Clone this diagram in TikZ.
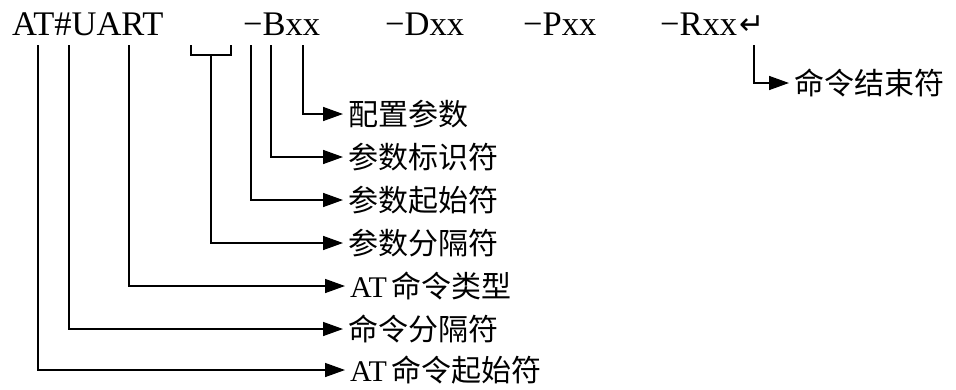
\documentclass[tikz,border=0pt]{standalone}
\usepackage{fontspec}
\setmainfont{Liberation Serif}
\newfontfamily\cjk{Noto Sans CJK SC}
\newfontfamily\symfont{DejaVu Sans}
\usetikzlibrary{arrows.meta}

\begin{document}
\begin{tikzpicture}[x=1pt,y=-1pt]

    \tikzstyle{cmd} = [anchor=base west, inner sep=0pt, font=\fontsize{34.5}{38}\selectfont]
    \tikzstyle{desc} = [anchor=west, inner sep=0pt, yshift=1pt, font=\fontsize{30}{34}\selectfont]
    \tikzstyle{link} = [line width=1.5pt, -{Triangle[length=20pt,width=14pt]}, shorten >=5pt]

    \useasboundingbox (0,0) rectangle (956,389);

    \node[cmd] (at) at (12,35)  {AT\#UART};
    \node[cmd] (pb) at (243,35) {−Bxx};
    \node[cmd] (pd) at (385,35) {−Dxx};
    \node[cmd] (pp) at (523,35) {−Pxx};
    \node[cmd] (pr) at (660,35) {−Rxx};
    \node[anchor=base west, inner sep=0pt, font=\fontsize{30}{32}\selectfont\symfont] (ret) at (739,34) {↵};

    \node[desc] (d1) at (348,115) {\cjk 配置参数};
    \node[desc] (d2) at (348,158) {\cjk 参数标识符};
    \node[desc] (d3) at (348,201) {\cjk 参数起始符};
    \node[desc] (d4) at (348,244) {\cjk 参数分隔符};
    \node[desc] (d5) at (350,287) {AT\,{\cjk 命令类型}};
    \node[desc] (d6) at (348,330) {\cjk 命令分隔符};
    \node[desc] (d7) at (350,371) {AT\,{\cjk 命令起始符}};
    \node[desc] (d8) at (794,84)  {\cjk 命令结束符};

    \coordinate (c1) at (38,45);
    \coordinate (c2) at (69,45);
    \coordinate (c3) at (129,45);
    \coordinate (c4) at (211,55);
    \coordinate (c5) at (251,45);
    \coordinate (c6) at (271,45);
    \coordinate (c7) at (303,45);
    \coordinate (c8) at (754,45);

    % bracket under the gap
    \draw[line width=1.5pt] (191,45) -- (191,55) -- (231,55) -- (231,45);

    \draw[link] (c7) |- (d1.west);
    \draw[link] (c6) |- (d2.west);
    \draw[link] (c5) |- (d3.west);
    \draw[link] (c4) |- (d4.west);
    \draw[link] (c3) |- (d5.west);
    \draw[link] (c2) |- (d6.west);
    \draw[link] (c1) |- (d7.west);
    \draw[link] (c8) |- (d8.west);
\end{tikzpicture}
\end{document}
